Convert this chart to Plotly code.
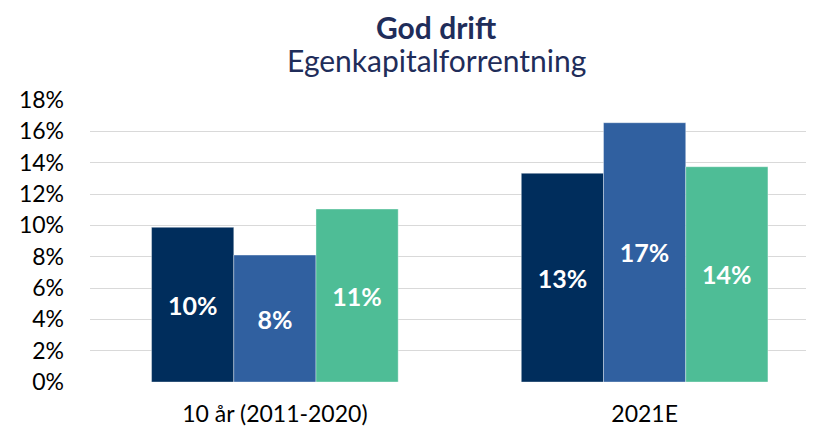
import plotly.graph_objects as go

categories = ["10 år (2011-2020)", "2021E"]
series_a = [9.87, 13.32]
series_b = [8.1, 16.55]
series_c = [11.04, 13.74]
labels_a = ["10%", "13%"]
labels_b = ["8%", "17%"]
labels_c = ["11%", "14%"]
y_ticks = [0, 2, 4, 6, 8, 10, 12, 14, 16, 18]
y_tick_text = [f"{v}%" for v in y_ticks]

colors = ["#002D5C", "#3060A0", "#4EBD96"]
FONT = "Lato, 'Open Sans', sans-serif"

# page body has an 8px margin; figure sized so it fills the 814x430 window
W, H = 806, 422
OFF = 8
ML, MT, MB, MR = 89.5 - OFF, 100 - OFF, 48, 0

fig = go.Figure()
for vals, labs, col in [(series_a, labels_a, colors[0]),
                        (series_b, labels_b, colors[1]),
                        (series_c, labels_c, colors[2])]:
    fig.add_trace(go.Bar(
        x=categories, y=vals, text=labs,
        textposition="inside", insidetextanchor="middle",
        textfont=dict(color="white", size=25, family=FONT, weight="bold"),
        marker=dict(color=col, line=dict(color="rgba(255,255,255,0.6)", width=0.6)),
        hoverinfo="skip",
    ))

plot_h = H - MT - MB
plot_w = W - ML - MR


def py(win_y):
    return (H - MB - (win_y - OFF)) / plot_h


def px(win_x):
    return ((win_x - OFF) - ML) / plot_w


fig.update_layout(
    width=W, height=H,
    margin=dict(l=ML, r=MR, t=MT, b=MB),
    barmode="group", bargap=0.333, bargroupgap=0,
    plot_bgcolor="white", paper_bgcolor="white",
    showlegend=False,
    font=dict(family=FONT, color="black"),
    uniformtext=dict(minsize=8, mode="show"),
    annotations=[
        dict(text="<b>God drift</b>", x=px(436), y=py(OFF), xref="paper", yref="paper",
             xanchor="center", yanchor="top", borderpad=0,
             showarrow=False, font=dict(size=30, color="#1F2D5A", family=FONT)),
        dict(text="Egenkapitalforrentning", x=px(436), y=py(60), xref="paper", yref="paper",
             xanchor="center", yanchor="middle",
             showarrow=False, font=dict(size=30, color="#1F2D5A", family=FONT)),
    ],
)

fig.update_xaxes(
    range=[-0.5, 1.5 - 15.5 / 370], showgrid=False, showline=False, zeroline=False,
    tickfont=dict(size=23, color="black", family=FONT), ticks="", ticklabelstandoff=16,
)
fig.update_yaxes(
    range=[0, 18], tickvals=y_ticks, ticktext=y_tick_text,
    showgrid=True, gridcolor="#D9D9D9", gridwidth=1, zeroline=False, showline=False,
    tickfont=dict(size=23, color="black", family=FONT), ticks="", ticklabelstandoff=25,
)

fig.write_html("out.html")
